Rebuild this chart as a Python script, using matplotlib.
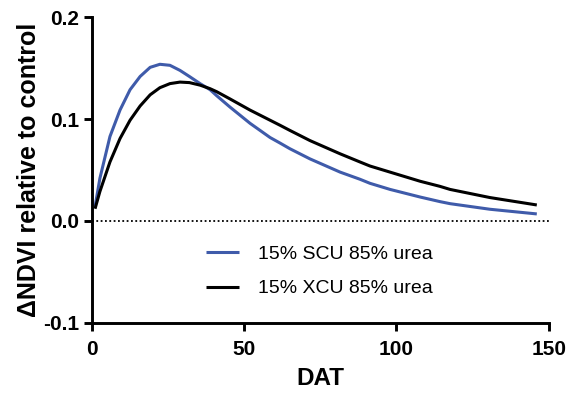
import matplotlib
matplotlib.use("Agg")
import matplotlib.pyplot as plt

# values
dat = [1, 2.6, 5.9, 9.2, 12.5, 15.8, 19.1, 22.3, 25.6, 28.9, 32, 35.5, 38.8, 41,
       45.3, 51.9, 58.5, 61.8, 65, 71.6, 81.5, 88, 91.3, 97.9, 107.8, 114.3,
       117.6, 130.7, 146.1]
scu = [0.014, 0.042, 0.083, 0.109, 0.129, 0.142, 0.151, 0.154, 0.153, 0.148,
       0.142, 0.135, 0.129, 0.123, 0.112, 0.096, 0.082, 0.0765, 0.071, 0.061,
       0.048, 0.041, 0.037, 0.031, 0.0235, 0.019, 0.0170, 0.0115, 0.0069]
xcu = [0.012, 0.029, 0.058, 0.081, 0.099, 0.113, 0.124, 0.131, 0.135, 0.1365,
       0.136, 0.1335, 0.130, 0.127, 0.120, 0.109, 0.099, 0.094, 0.089, 0.079,
       0.066, 0.058, 0.054, 0.048, 0.039, 0.034, 0.031, 0.023, 0.0157]
labels = ["15% SCU 85% urea", "15% XCU 85% urea"]
colors = ["#3F5BAA", "black"]

plt.rcParams['font.family'] = ['Liberation Sans', 'DejaVu Sans']

fig = plt.figure(figsize=(5.7, 3.94), dpi=100)
ax = fig.add_axes([0.1614, 0.181, 0.8012, 0.7746])

ax.plot(dat, scu, color=colors[0], lw=2.2, label=labels[0], solid_capstyle='butt')
ax.plot(dat, xcu, color=colors[1], lw=2.2, label=labels[1], solid_capstyle='butt')
ax.axhline(0, color='black', lw=1.3, ls=(0, (1, 1.4)))

ax.set_xlim(0, 150)
ax.set_ylim(-0.1, 0.2)
ax.set_xticks([0, 50, 100, 150])
ax.set_yticks([-0.1, 0.0, 0.1, 0.2])
ax.set_yticklabels(["-0.1", "0.0", "0.1", "0.2"])

for s in ['top', 'right']:
    ax.spines[s].set_visible(False)
for s in ['left', 'bottom']:
    ax.spines[s].set_linewidth(2.1)
ax.tick_params(direction='out', length=6, width=2.1, labelsize=15, pad=3)
ax.tick_params(axis='x', pad=6.5)
for t in ax.get_xticklabels() + ax.get_yticklabels():
    t.set_fontweight('bold')

ax.set_xlabel("DAT", fontsize=17.5, fontweight='bold', labelpad=6)
ax.set_ylabel("\u0394NDVI relative to control", fontsize=18, fontweight='bold', labelpad=2)

leg = ax.legend(loc='center left', bbox_to_anchor=(206 / 570, 1 - 271.5 / 394),
                bbox_transform=fig.transFigure, frameon=False, fontsize=14,
                handlelength=1.7, handletextpad=1.0, labelspacing=0.85,
                borderpad=0, borderaxespad=0)

fig.savefig("out.png", dpi=100)
